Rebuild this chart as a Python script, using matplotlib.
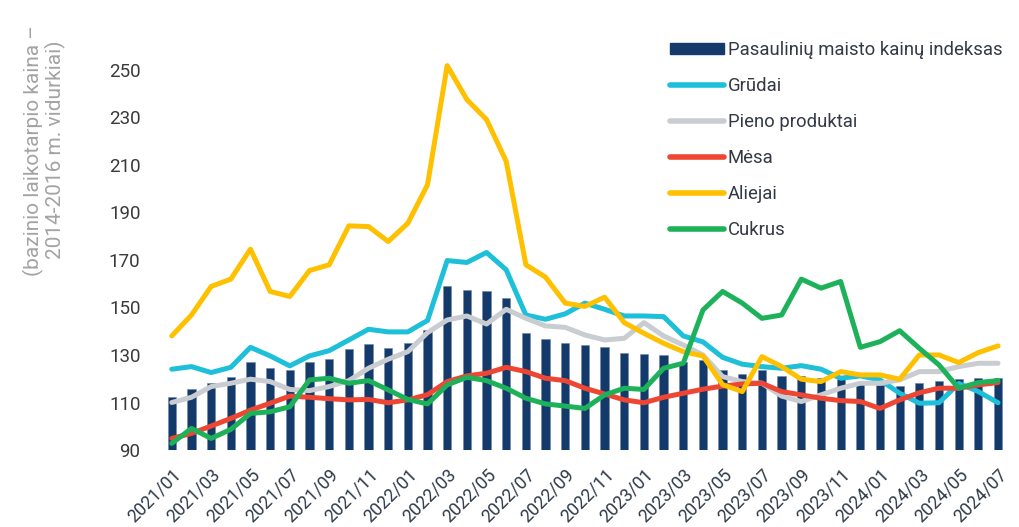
import numpy as np
import matplotlib.pyplot as plt
from matplotlib.patches import Patch
from matplotlib.lines import Line2D
from matplotlib.transforms import ScaledTranslation

plt.rcParams['font.family'] = ['Roboto', 'DejaVu Sans']

# months 2021/01 .. 2024/07
months = [f"{y}/{m:02d}" for y in range(2021, 2025) for m in range(1, 13)][:43]

food_index = [112.5, 115.5, 118.1, 120.9, 127.2, 124.4, 123.7, 127.2, 128.2, 132.4, 134.6, 132.8,
              134.9, 140.5, 158.8, 157.4, 157.1, 153.9, 139.4, 136.6, 134.9, 134.2, 133.5, 130.7,
              130.4, 130.0, 127.0, 127.9, 123.7, 122.0, 123.5, 121.0, 121.0, 120.2, 119.9, 118.2,
              117.5, 117.0, 118.2, 119.0, 120.0, 120.2, 120.4]

cereals = [124.0, 125.1, 122.6, 124.8, 133.2, 129.6, 125.4, 129.6, 131.8, 136.3, 140.8, 139.7,
           139.7, 144.5, 169.7, 168.9, 173.1, 165.8, 146.8, 145.0, 147.3, 151.8, 149.2, 146.4,
           146.4, 146.1, 138.0, 135.5, 129.0, 126.1, 125.1, 124.4, 125.5, 124.0, 120.2, 121.2,
           119.5, 113.9, 109.7, 109.9, 118.0, 114.6, 109.9]

dairy = [110.0, 112.2, 116.7, 118.1, 119.8, 118.8, 115.5, 115.0, 116.7, 119.2, 124.4, 128.2,
         131.4, 139.4, 144.7, 146.4, 143.0, 149.2, 145.4, 142.2, 141.6, 138.4, 136.3, 137.0,
         143.6, 138.0, 134.2, 130.0, 120.9, 118.8, 118.1, 112.7, 110.4, 113.2, 116.0, 118.1,
         118.1, 119.5, 123.0, 123.0, 125.1, 126.5, 126.5]

meat = [94.9, 97.0, 100.1, 103.3, 106.8, 109.7, 112.7, 112.2, 111.6, 111.1, 111.3, 109.9,
        111.1, 113.3, 118.8, 121.2, 122.3, 124.8, 123.0, 120.2, 119.2, 116.0, 113.6, 111.1,
        109.9, 112.2, 113.9, 115.6, 116.9, 117.8, 118.1, 114.6, 113.2, 111.8, 110.8, 110.4,
        107.5, 111.1, 114.1, 116.0, 116.0, 117.4, 118.4]

oils = [138.0, 146.8, 158.8, 161.9, 174.5, 156.7, 154.6, 165.5, 167.9, 184.3, 184.0, 177.7,
        185.4, 201.6, 251.7, 237.4, 229.0, 211.4, 167.9, 162.7, 151.8, 150.4, 154.3, 143.6,
        139.1, 134.9, 131.4, 129.6, 117.5, 114.6, 129.3, 125.1, 119.8, 118.8, 123.0, 121.6,
        121.6, 119.8, 130.0, 130.0, 126.8, 131.0, 133.8]

sugar = [92.8, 99.1, 94.9, 98.7, 105.4, 106.1, 108.2, 119.5, 120.2, 118.1, 119.2, 115.3,
         111.3, 109.4, 117.4, 120.6, 119.2, 116.0, 111.8, 109.4, 108.5, 107.5, 113.2, 116.0,
         115.5, 124.4, 126.5, 148.9, 156.7, 151.8, 145.4, 146.8, 161.9, 158.1, 160.9, 133.2,
         135.6, 140.2, 132.8, 125.8, 116.0, 118.4, 119.2]

series = [
    ("Grūdai", cereals, "#1ebfd8"),
    ("Pieno produktai", dairy, "#c9ccd1"),
    ("Mėsa", meat, "#ef4633"),
    ("Aliejai", oils, "#ffc000"),
    ("Cukrus", sugar, "#1db259"),
]
bar_label = "Pasaulinių maisto kainų indeksas"
bar_color = "#133a6a"

fig = plt.figure(figsize=(10.19, 5.27), dpi=100)
ax = fig.add_axes([0.157, 0.146, 0.834, 0.767])

x = np.arange(len(months))
base = 90
ax.bar(x, np.array(food_index) - base, bottom=base, width=0.42, color=bar_color,
       edgecolor="#6f86a3", linewidth=0.4, zorder=2)
for name, vals, col in series:
    ax.plot(x, vals, color=col, lw=3.6, zorder=3, solid_capstyle="round")

ax.set_ylim(90, 260)
ax.set_xlim(-0.6, len(months) - 0.4)
ax.set_yticks(range(90, 251, 20))
ax.set_xticks(x[::2])
ax.set_xticklabels(months[::2], rotation=45, ha="right", rotation_mode="anchor",
                   fontsize=12.8, color="#2f3a48")
# nudge the date labels a little to the right, like the original
shift = ScaledTranslation(0.06, 0, fig.dpi_scale_trans)
for lab in ax.get_xticklabels():
    lab.set_transform(lab.get_transform() + shift)
ax.tick_params(axis="y", labelsize=13.5, labelcolor="#3a3a3a", length=0, pad=14)
ax.tick_params(axis="x", length=0, pad=11)
for s in ax.spines.values():
    s.set_visible(False)

fig.text(0.044, 0.715, "(bazinio laikotarpio kaina –\n2014-2016 m. vidurkiai)",
         rotation=90, ha="center", va="center", multialignment="center",
         fontsize=15, color="#a3a3a3", linespacing=1.05)

handles = [Patch(facecolor=bar_color, edgecolor=bar_color)]
labels = [bar_label]
for name, vals, col in series:
    handles.append(Line2D([0], [0], color=col, lw=4, solid_capstyle="round"))
    labels.append(name)
fig.legend(handles, labels, loc="upper left", bbox_to_anchor=(0.648, 0.94),
           frameon=False, fontsize=13.3, handlelength=2.95, handleheight=0.55,
           handletextpad=0.2, labelspacing=0.98, borderpad=0, labelcolor="#333a45")

fig.savefig("out.png", dpi=100)
